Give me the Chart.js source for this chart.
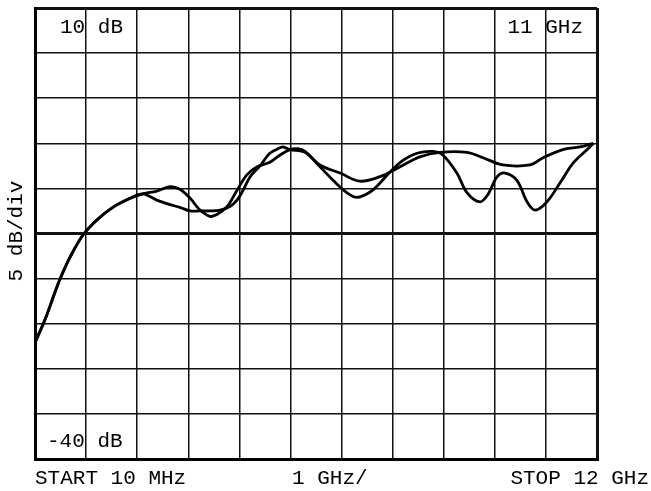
<!DOCTYPE html>
<html>
<head>
<meta charset="utf-8">
<script src="https://cdn.jsdelivr.net/npm/chart.js@4.4.1/dist/chart.umd.min.js"></script>
<style>
html,body{margin:0;padding:0;background:#fff;}
#wrap{width:651px;height:491px;}
</style>
</head>
<body>
<div id="wrap"><canvas id="trace"></canvas></div>
<script>
// frequency in GHz, level in dB
const freqA = [0.01,0.22,0.43,0.54,0.76,1.03,1.33,1.67,2.04,2.31,2.61,2.89,3.10,3.32,3.53,3.74,3.89,4.11,4.32,4.53,4.75,5.02,5.24,5.45,5.62,5.77,6.09,6.52,6.94,7.37,7.80,8.22,8.65,9.23,9.57,9.99,10.57,10.85,11.27,11.64,11.92];
const levelA = [-27.1,-24.6,-21.6,-20.1,-17.6,-15.2,-13.5,-12.1,-11.1,-10.6,-10.3,-9.8,-10.1,-11.1,-12.4,-13.1,-12.9,-12.0,-10.2,-8.5,-7.6,-7.1,-6.3,-5.7,-5.6,-5.9,-7.4,-8.3,-9.2,-8.7,-7.6,-6.5,-6.0,-6.0,-6.6,-7.4,-7.4,-6.6,-5.7,-5.4,-5.0];

const freqB = [0.01,0.22,0.43,0.54,0.76,1.03,1.33,1.67,2.04,2.31,2.61,2.89,3.10,3.32,3.53,3.74,3.96,4.17,4.32,4.45,4.60,4.81,5.02,5.24,5.30,5.45,5.77,6.09,6.37,6.67,6.88,7.16,7.37,7.58,7.86,8.16,8.50,8.71,9.01,9.23,9.50,9.67,9.87,10.04,10.29,10.51,10.68,10.93,11.21,11.49,11.79,11.92];
const levelB = [-27.1,-24.6,-21.6,-20.1,-17.6,-15.2,-13.5,-12.1,-11.1,-10.6,-11.3,-11.8,-12.1,-12.5,-12.5,-12.5,-12.4,-12.0,-11.3,-10.2,-8.7,-7.5,-6.1,-5.5,-5.4,-5.7,-6.0,-7.6,-9.1,-10.5,-11.0,-10.4,-9.4,-8.2,-6.9,-6.1,-5.9,-6.3,-8.3,-10.5,-11.5,-10.7,-8.7,-8.3,-9.1,-11.5,-12.4,-11.5,-9.4,-7.2,-5.7,-5.0];

// vertical grid: 11 divisions from 10 MHz to 12 GHz
const xGrid = [0.01,1.10,2.19,3.28,4.37,5.46,6.55,7.64,8.73,9.82,10.91,12.00];
const yTop = 10, yBottom = -40, yStep = 5, yRef = -15;

const font = '21px "Liberation Mono", "DejaVu Sans Mono", monospace';

function pts(xs, ys){ return xs.map((x,i)=>({x:x, y:ys[i]})); }

const labels = {
  id:'labels',
  afterDraw(chart){
    const c = chart.ctx;
    c.save();
    c.fillStyle = '#000';
    c.font = font;
    c.textBaseline = 'alphabetic';
    c.textAlign = 'left';
    c.fillText(yTop + ' dB', 60, 33);
    c.fillText(yBottom + ' dB', 47, 447);
    c.fillText('START 10 MHz', 35, 484);
    c.fillText('1 GHz/', 292, 484);
    c.textAlign = 'right';
    c.fillText('11 GHz', 583, 33);
    c.fillText('STOP 12 GHz', 649, 484);
    c.translate(22, 231);
    c.rotate(-Math.PI/2);
    c.textAlign = 'center';
    c.fillText('5 dB/div', 0, 0);
    c.restore();
  }
};

new Chart(document.getElementById('trace'), {
  type:'line',
  data:{
    datasets:[
      {data:pts(freqA, levelA), borderColor:'#000', borderWidth:2.8, pointRadius:0, tension:0.35, fill:false},
      {data:pts(freqB, levelB), borderColor:'#000', borderWidth:2.8, pointRadius:0, tension:0.35, fill:false}
    ]
  },
  options:{
    responsive:true,
    maintainAspectRatio:false,
    animation:false,
    events:[],
    layout:{padding:{left:35, top:8, right:54, bottom:32}},
    plugins:{legend:{display:false}, tooltip:{enabled:false}},
    scales:{
      x:{
        type:'linear', min:0.01, max:12,
        afterBuildTicks(s){ s.ticks = xGrid.map(v=>({value:v})); },
        ticks:{display:false},
        grid:{color:'#111', lineWidth:(ctx)=> (ctx.index===0 || ctx.index===xGrid.length-1) ? 3 : 1.5, drawTicks:false},
        border:{display:true, color:'#000', width:3}
      },
      y:{
        min:yBottom, max:yTop,
        ticks:{display:false, stepSize:yStep},
        grid:{color:'#111', lineWidth:(ctx)=> (ctx.tick && (ctx.tick.value===yRef || ctx.tick.value===yTop || ctx.tick.value===yBottom)) ? 3 : 1.5, drawTicks:false},
        border:{display:true, color:'#000', width:3}
      }
    }
  },
  plugins:[labels]
});
</script>
</body>
</html>
